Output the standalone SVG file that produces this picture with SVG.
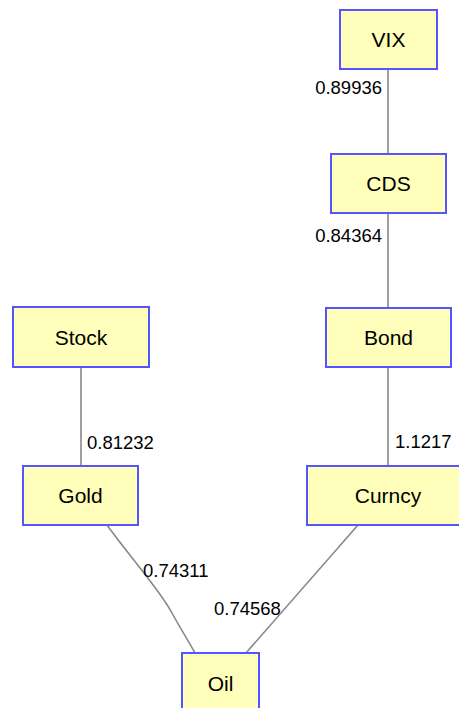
<svg xmlns="http://www.w3.org/2000/svg" width="459" height="708" viewBox="0 0 459 708">
<style>
.node rect{fill:#ffffbb;stroke:#5555ff;stroke-width:2}
.node text{font-family:"Liberation Sans",Arial,sans-serif;font-size:21px;text-anchor:middle;fill:#000}
.edges path{fill:none;stroke:#888;stroke-width:1.6}
.lbl{font-family:"Liberation Sans",Arial,sans-serif;font-size:18.5px;fill:#000}
</style>
<rect width="459" height="708" fill="#fff"/>
<g class="edges" id="edges">
<path d="M388,69 L388,154"/>
<path d="M388,213 L388,308"/>
<path d="M81,367 L81,466"/>
<path d="M388,367 L388,466"/>
<path d="M107,525 C130,557 160,590 172,613 C180,628 188,640 195,653"/>
<path d="M358,525 L246,653"/>
<text class="lbl" x="382" y="94" text-anchor="end">0.89936</text>
<text class="lbl" x="382" y="242" text-anchor="end">0.84364</text>
<text class="lbl" x="87" y="449">0.81232</text>
<text class="lbl" x="395" y="448">1.1217</text>
<text class="lbl" x="143" y="577">0.74311</text>
<text class="lbl" x="214" y="615">0.74568</text>
</g>
<g class="node" id="VIX"><rect x="340" y="10" width="97" height="59"/><text x="388.5" y="47">VIX</text></g>
<g class="node" id="CDS"><rect x="331" y="154" width="115" height="59"/><text x="388.5" y="191">CDS</text></g>
<g class="node" id="Bond"><rect x="326" y="308" width="125" height="59"/><text x="388.5" y="345">Bond</text></g>
<g class="node" id="Stock"><rect x="13" y="307" width="136" height="60"/><text x="81" y="345">Stock</text></g>
<g class="node" id="Gold"><rect x="23" y="466" width="115" height="59"/><text x="80.5" y="503">Gold</text></g>
<g class="node" id="Curncy"><rect x="307" y="466" width="162" height="59"/><text x="388" y="503">Curncy</text></g>
<g class="node" id="Oil"><rect x="182" y="653" width="77" height="59"/><text x="220.5" y="691">Oil</text></g>
</svg>
